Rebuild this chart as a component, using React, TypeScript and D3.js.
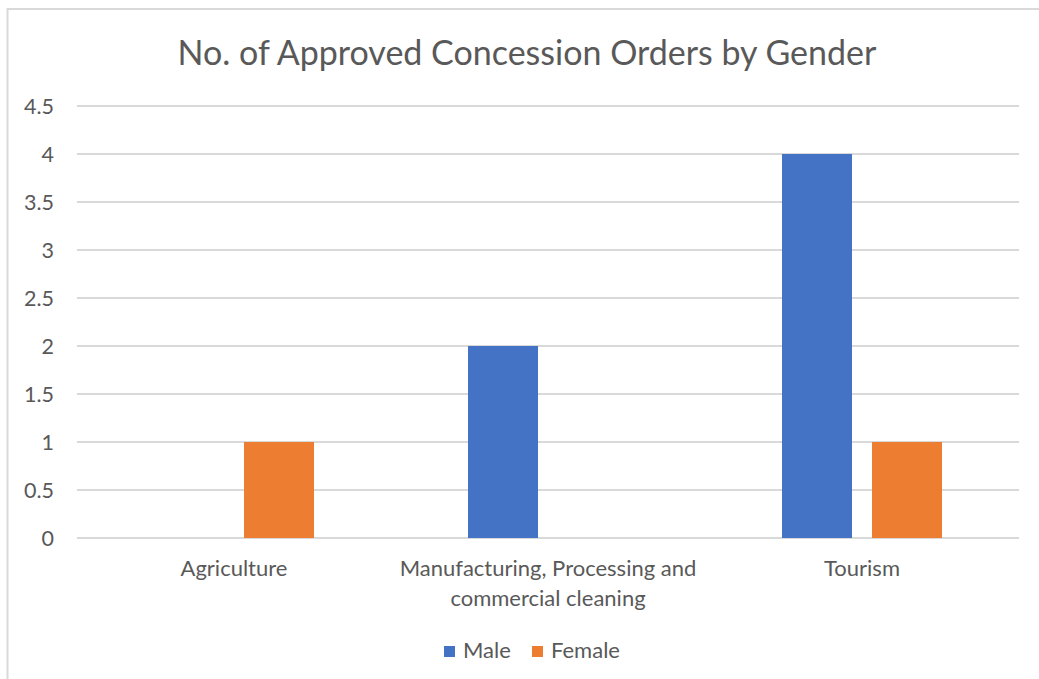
import React from "react";
import * as d3 from "d3";

const title = "No. of Approved Concession Orders by Gender";
const categories = ["Agriculture", "Manufacturing, Processing and\ncommercial cleaning", "Tourism"];
const seriesNames = ["Male", "Female"];
const maleValues = [0, 2, 4];
const femaleValues = [1, 0, 1];
const yTicks = [0, 0.5, 1, 1.5, 2, 2.5, 3, 3.5, 4, 4.5];
const colors = ["#4472C4", "#ED7D31"];

const W = 1039;
const H = 679;
const FONT = "Lato, 'Open Sans', sans-serif";
const TEXT = "#595959";

export default function App() {
  const plotLeft = 77;
  const plotRight = 1019;
  const plotTop = 106;
  const plotBottom = 538;

  const x0 = d3.scaleBand<string>().domain(categories).range([plotLeft, plotRight]).paddingInner(0).paddingOuter(0);
  const y = d3.scaleLinear().domain([0, 4.5]).range([plotBottom, plotTop]);
  const barW = 70;
  const gap = 20;
  const series = [maleValues, femaleValues];

  return (
    <svg width={W} height={H} style={{ position: "absolute", left: 0, top: 0, background: "#fff" }}>
      <rect x={7.5} y={9} width={W + 10} height={H + 10} fill="#fff" stroke="#d9d9d9" strokeWidth={2} />
      <text x={527} y={65} textAnchor="middle" fontFamily={FONT} fontSize={34} fill={TEXT}>{title}</text>
      {yTicks.map((t) => (
        <g key={t}>
          <line x1={plotLeft} x2={plotRight} y1={y(t)} y2={y(t)} stroke="#d9d9d9" strokeWidth={2} />
          <text x={54} y={y(t)} dy="0.35em" textAnchor="end" fontFamily={FONT} fontSize={21.5} fill={TEXT}>{String(t)}</text>
        </g>
      ))}
      {categories.map((c, ci) => {
        const cx = (x0(c) as number) + x0.bandwidth() / 2;
        return (
          <g key={c}>
            {series.map((vals, si) => {
              const v = vals[ci];
              if (!v) return null;
              const bx = si === 0 ? cx - gap / 2 - barW : cx + gap / 2;
              return <rect key={si} x={bx} y={y(v)} width={barW} height={y(0) - y(v)} fill={colors[si]} />;
            })}
            {c.split("\n").map((line, li) => (
              <text key={li} x={cx} y={576 + li * 30} textAnchor="middle" fontFamily={FONT} fontSize={22} fill={TEXT}>{line}</text>
            ))}
          </g>
        );
      })}
      {seriesNames.map((s, i) => {
        const lx = i === 0 ? 444 : 532;
        return (
          <g key={s}>
            <rect x={lx} y={646} width={11} height={11} fill={colors[i]} />
            <text x={lx + 19} y={658} fontFamily={FONT} fontSize={22} fill={TEXT}>{s}</text>
          </g>
        );
      })}
    </svg>
  );
}
